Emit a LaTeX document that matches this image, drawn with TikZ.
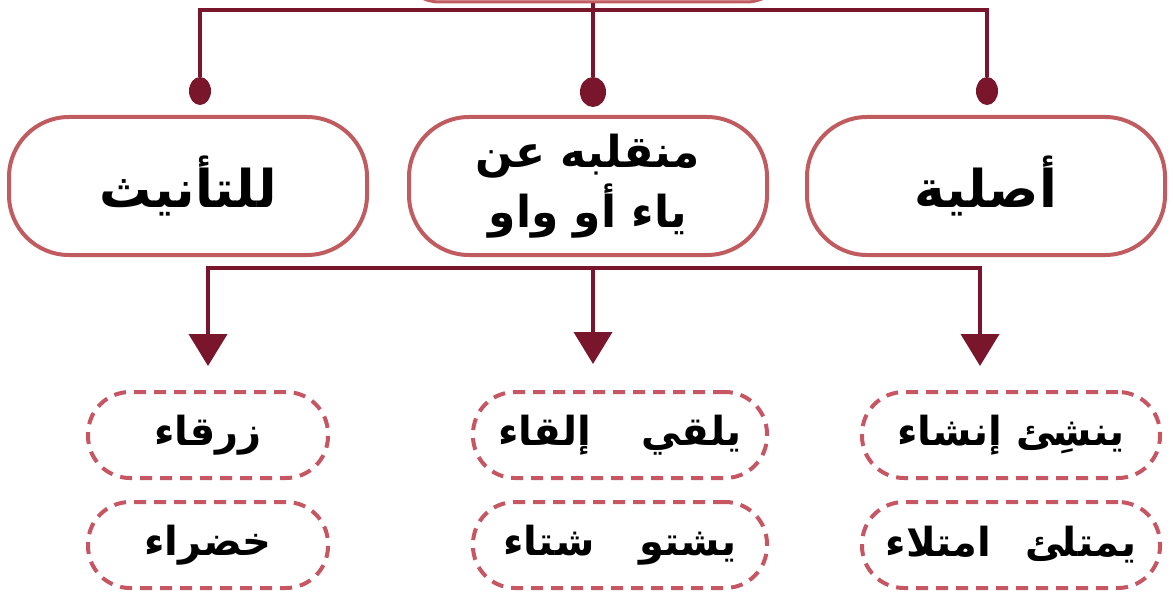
\documentclass[tikz,border=0pt]{standalone}
\usepackage{fontspec}
\newfontfamily\arabicfont[Script=Arabic]{DejaVu Sans}
\TeXXeTstate=1
\usepackage{tikz}
\usetikzlibrary{arrows.meta,positioning,shapes.geometric}
\definecolor{maroon}{RGB}{122,22,44}
\definecolor{rosered}{RGB}{192,92,96}
\definecolor{dashred}{RGB}{198,86,98}
\tikzset{
  catbox/.style={draw=rosered, line width=4pt, rounded corners=60pt,
    minimum width=358pt, minimum height=138pt, align=center, inner sep=2pt,
    font=\arabicfont\bfseries\fontsize{52}{60}\selectfont},
  wordbox/.style={draw=dashred, line width=4pt, dash pattern=on 12pt off 8pt,
    rounded corners=42pt, minimum height=86pt, inner sep=2pt,
    font=\arabicfont\bfseries\fontsize{40}{44}\selectfont},
  wire/.style={draw=maroon, line width=4pt},
  knob/.style={ellipse, fill=maroon, minimum width=22pt, minimum height=28pt, inner sep=0pt},
  tip/.style={-{Triangle[width=38pt,length=32pt]}}
}
\begin{document}
\begin{tikzpicture}[x=1pt,y=-1pt]
\useasboundingbox (0,0) rectangle (1174,596);
% top box, cut off by the page
\node[draw=rosered, fill=rosered!25, line width=3pt, rounded corners=40pt,
  minimum width=387pt, minimum height=120pt] (root) at (593,-58) {};
\coordinate (hubA) at (593,10);
\node[knob] (dotA) at (200,91) {};
\node[knob, minimum width=26pt, minimum height=30pt] (dotB) at (593,92) {};
\node[knob] (dotC) at (987,91) {};
\draw[wire] (root.south) -- (hubA);
\draw[wire] (hubA) -| (dotA);
\draw[wire] (hubA) -| (dotC);
\draw[wire] (hubA) -- (dotB);

% categories
\node[catbox] (catA) at (188,186) {\beginR للتأنيث\endR};
\node[catbox, font=\arabicfont\bfseries\fontsize{44}{60}\selectfont] (catB) at (588,186)
  {\beginR منقلبه عن\endR\\\beginR ياء أو واو\endR};
\node[catbox] (catC) at (986,186) {\beginR أصلية\endR};

% arrows down
\coordinate (hubB) at (593,268);
\coordinate (tipA) at (208,366);
\coordinate (tipB) at (593,364);
\coordinate (tipC) at (980,366);
\draw[wire, tip] (hubB) -| (tipA);
\draw[wire, tip] (hubB) -| (tipC);
\draw[wire, tip] (hubB) -- (tipB);

% examples
\node[wordbox, minimum width=240pt] (wA1) at (208,435) {\beginR زرقاء\endR};
\node[wordbox, minimum width=240pt, below=20pt of wA1] (wA2) {\beginR خضراء\endR};
\node[wordbox, minimum width=294pt] (wB1) at (620,435) {\beginR يلقي\hspace{50pt}إلقاء\endR};
\node[wordbox, minimum width=294pt, below=20pt of wB1] (wB2) {\beginR يشتو\hspace{45pt}شتاء\endR};
\node[wordbox, minimum width=298pt] (wC1) at (1011,435) {\beginR ينشِئ\hspace{14pt}إنشاء\endR};
\node[wordbox, minimum width=298pt, below=20pt of wC1] (wC2) {\beginR يمتلئ\hspace{34pt}امتلاء\endR};
\end{tikzpicture}
\end{document}
